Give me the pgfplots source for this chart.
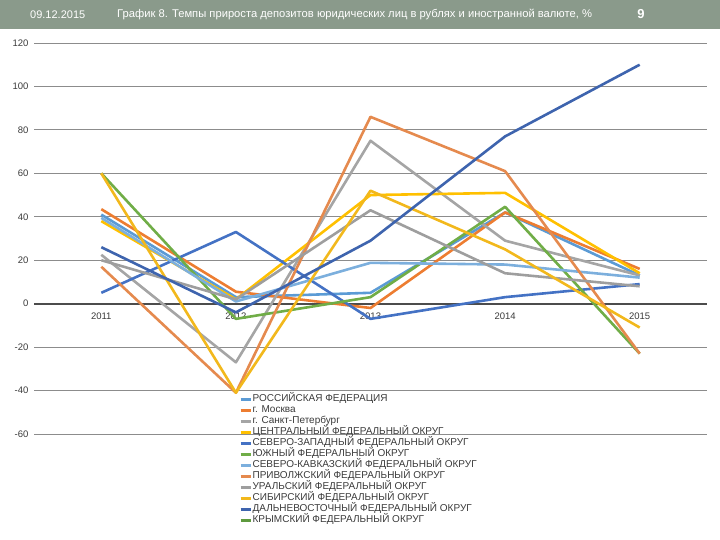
\documentclass[border=0pt]{standalone}
\usepackage{pgfplots}
\pgfplotsset{compat=1.18}
\usepackage{fontspec}
\setmainfont{Liberation Sans}

\definecolor{hdr}{HTML}{8A9A8B}
\definecolor{rf}{HTML}{5B9BD5}
\definecolor{msk}{HTML}{ED7D31}
\definecolor{spb}{HTML}{A5A5A5}
\definecolor{cfo}{HTML}{FFC000}
\definecolor{szfo}{HTML}{4472C4}
\definecolor{yufo}{HTML}{70AD47}
\definecolor{skfo}{HTML}{7CAFDD}
\definecolor{pfo}{HTML}{E58A4E}
\definecolor{ufo}{HTML}{9E9E9E}
\definecolor{sfo}{HTML}{F2B81C}
\definecolor{dfo}{HTML}{3E64AE}
\definecolor{kfo}{HTML}{5E9A3E}
\definecolor{txt}{HTML}{3A3A3A}

\begin{document}
\begin{tikzpicture}[x=1pt,y=1pt]
\path[use as bounding box] (0,0) rectangle (720,540);
\fill[hdr] (0,511) rectangle (720,540);
\node[white, anchor=west, inner sep=0pt, font=\fontsize{11}{13}\selectfont] at (30,525.5) {09.12.2015};
\node[white, anchor=west, inner sep=0pt, font=\fontsize{11.2}{13}\selectfont] at (117,525.5)
  {График 8. Темпы прироста депозитов юридических лиц в рублях и иностранной валюте, \%};
\node[white, inner sep=0pt, font=\bfseries\fontsize{13}{15}\selectfont] at (641,525.5) {9};

\begin{axis}[
    at={(34pt,106pt)}, anchor=south west,
    scale only axis, width=673pt, height=391pt,
    xmin=-0.5, xmax=4.5, ymin=-60, ymax=120,
    axis line style={draw=none},
    xtick={0,...,4}, xticklabels={2011,2012,2013,2014,2015},
    ytick={-60,-40,...,120},
    major tick length=0pt,
    ymajorgrids,
    grid style={color=gray!90, line width=0.9pt},
    extra y ticks={0}, extra y tick labels={},
    extra y tick style={grid style={color=black!70, line width=1.8pt}},
    tick label style={color=txt, font=\fontsize{9.5}{11}\selectfont},
    /pgf/number format/assume math mode=true,
    xticklabel style={yshift=125pt},
    yticklabel style={xshift=-2pt},
    every axis plot/.append style={line width=2.6pt, mark=none, line join=round},
    legend cell align=left,
    legend style={at={(0.3,0.107)}, anchor=north west, draw=none, fill=none,
      font=\fontsize{10}{11}\selectfont, text=txt, row sep=1pt,
      nodes={inner sep=0.5pt, text height=7pt, text depth=2pt}},
    legend image code/.code={\draw[#1, line width=3pt] (0pt,0pt) -- (10pt,0pt);},
  ]
\addplot[rf] coordinates {(0,41) (1,3) (2,5) (3,42) (4,13)};
\addlegendentry{РОССИЙСКАЯ ФЕДЕРАЦИЯ}
\addplot[msk] coordinates {(0,43.5) (1,5.5) (2,-2) (3,42) (4,16)};
\addlegendentry{г. Москва}
\addplot[spb] coordinates {(0,22.5) (1,-27) (2,75) (3,29) (4,13)};
\addlegendentry{г. Санкт-Петербург}
\addplot[cfo] coordinates {(0,38) (1,2) (2,50) (3,51) (4,14)};
\addlegendentry{ЦЕНТРАЛЬНЫЙ ФЕДЕРАЛЬНЫЙ ОКРУГ}
\addplot[szfo] coordinates {(0,5) (1,33) (2,-7) (3,3) (4,9)};
\addlegendentry{СЕВЕРО-ЗАПАДНЫЙ ФЕДЕРАЛЬНЫЙ ОКРУГ}
\addplot[yufo] coordinates {(0,60) (1,-7) (2,3) (3,44.6) (4,-23)};
\addlegendentry{ЮЖНЫЙ ФЕДЕРАЛЬНЫЙ ОКРУГ}
\addplot[skfo] coordinates {(0,39.5) (1,1) (2,18.8) (3,18) (4,12)};
\addlegendentry{СЕВЕРО-КАВКАЗСКИЙ ФЕДЕРАЛЬНЫЙ ОКРУГ}
\addplot[pfo] coordinates {(0,17) (1,-41) (2,86) (3,61) (4,-23)};
\addlegendentry{ПРИВОЛЖСКИЙ ФЕДЕРАЛЬНЫЙ ОКРУГ}
\addplot[ufo] coordinates {(0,20) (1,2) (2,43) (3,14) (4,8)};
\addlegendentry{УРАЛЬСКИЙ ФЕДЕРАЛЬНЫЙ ОКРУГ}
\addplot[sfo] coordinates {(0,60) (1,-41) (2,52) (3,25) (4,-11)};
\addlegendentry{СИБИРСКИЙ ФЕДЕРАЛЬНЫЙ ОКРУГ}
\addplot[dfo] coordinates {(0,26) (1,-4) (2,29) (3,77) (4,110)};
\addlegendentry{ДАЛЬНЕВОСТОЧНЫЙ ФЕДЕРАЛЬНЫЙ ОКРУГ}
\addlegendimage{kfo}
\addlegendentry{КРЫМСКИЙ ФЕДЕРАЛЬНЫЙ ОКРУГ}
\end{axis}
\end{tikzpicture}
\end{document}
